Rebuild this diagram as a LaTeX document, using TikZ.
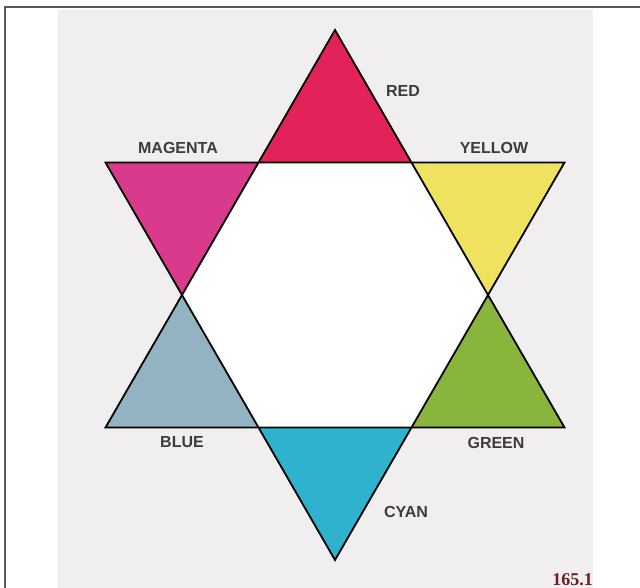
\documentclass[tikz,border=0pt]{standalone}
\usepackage{fontspec}
\setsansfont{Liberation Sans}
\setmainfont{Liberation Serif}
\definecolor{paper}{RGB}{240,238,238}
\definecolor{cred}{RGB}{228,34,90}
\definecolor{cmagenta}{RGB}{217,58,140}
\definecolor{cyellow}{RGB}{239,226,94}
\definecolor{cgreen}{RGB}{138,181,60}
\definecolor{ccyan}{RGB}{46,178,205}
\definecolor{cblue}{RGB}{147,178,194}
\definecolor{ink}{RGB}{60,60,60}
\definecolor{plate}{RGB}{110,30,35}
\tikzset{
  colorname/.style={font=\sffamily\bfseries\fontsize{16}{19}\selectfont, text=ink, inner sep=0pt},
  starline/.style={draw=black, line width=1.8pt, line join=miter}
}
\begin{document}
\begin{tikzpicture}[x=1pt,y=-1pt]
\useasboundingbox (0,0) rectangle (640,588);
\fill[paper] (58,10) rectangle (593,588);
\draw[gray!70!black, line width=1.2pt] (5,588) -- (5,7) -- (640,7);
% outer points of the star
\coordinate (T) at (335,30);
\coordinate (BL) at (105.5,427.5);
\coordinate (BR) at (564.5,427.5);
\coordinate (TL) at (105.5,162.5);
\coordinate (TR) at (564.5,162.5);
\coordinate (B) at (335,560);
% inner hexagon
\coordinate (h1) at (258.5,162.5);
\coordinate (h2) at (411.5,162.5);
\coordinate (h3) at (488,295);
\coordinate (h4) at (411.5,427.5);
\coordinate (h5) at (258.5,427.5);
\coordinate (h6) at (182,295);
\fill[white] (h1) -- (h2) -- (h3) -- (h4) -- (h5) -- (h6) -- cycle;
\fill[cred] (T) -- (h2) -- (h1) -- cycle;
\fill[cyellow] (TR) -- (h3) -- (h2) -- cycle;
\fill[cgreen] (BR) -- (h4) -- (h3) -- cycle;
\fill[ccyan] (B) -- (h5) -- (h4) -- cycle;
\fill[cblue] (BL) -- (h6) -- (h5) -- cycle;
\fill[cmagenta] (TL) -- (h1) -- (h6) -- cycle;
\draw[starline] (T) -- (BR) -- (BL) -- cycle;
\draw[starline] (TL) -- (TR) -- (B) -- cycle;
% names of the colours
\node[colorname] (red) at (403,91) {RED};
\node[colorname] (magenta) at (178,148) {MAGENTA};
\node[colorname] (yellow) at (494,148) {YELLOW};
\node[colorname] (blue) at (182,442) {BLUE};
\node[colorname] (green) at (496,443) {GREEN};
\node[colorname] (cyan) at (406,512) {CYAN};
\node[font=\rmfamily\bfseries\fontsize{18}{21}\selectfont, text=plate, anchor=base east, inner sep=0pt] (plateno) at (593,585) {165.1};
\end{tikzpicture}
\end{document}
